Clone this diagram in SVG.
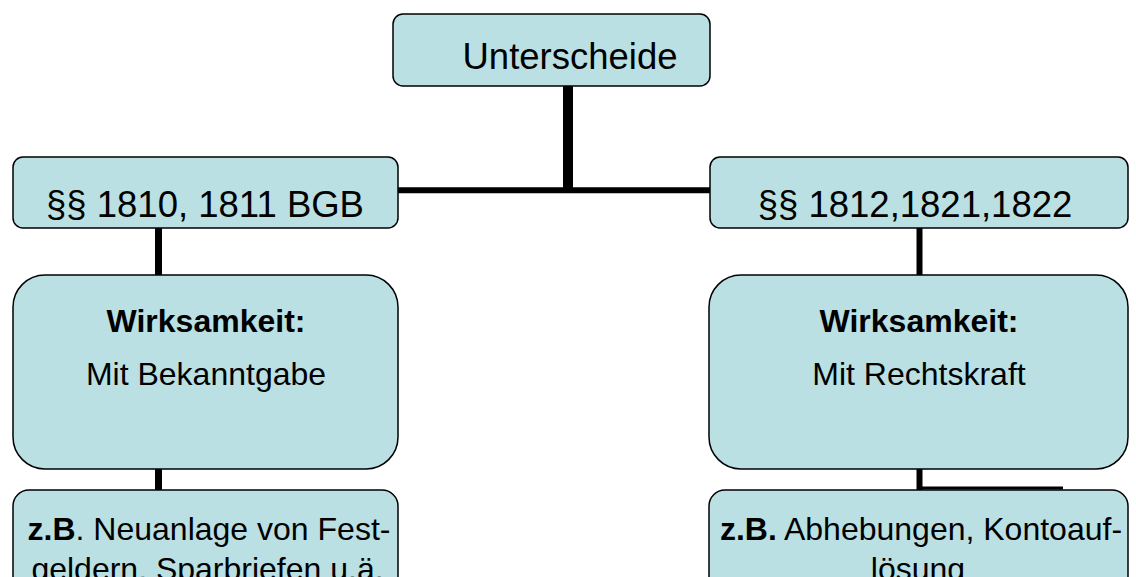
<svg xmlns="http://www.w3.org/2000/svg" width="1136" height="577" viewBox="0 0 1136 577">
<style>
.box{fill:#BAE0E4;stroke:#000;stroke-width:1.5}
.t{font-family:"Liberation Sans",Arial,sans-serif;fill:#000;text-anchor:middle}
.b{font-weight:bold}
.c{stroke:#000;fill:none}
</style>
<rect width="1136" height="577" fill="#fff"/>
<g id="connectors">
<line class="c" x1="568" y1="86" x2="568" y2="193" stroke-width="10"/>
<line class="c" x1="398" y1="190.3" x2="710" y2="190.3" stroke-width="6"/>
<line class="c" x1="158.5" y1="228" x2="158.5" y2="276" stroke-width="7"/>
<line class="c" x1="919.5" y1="228" x2="919.5" y2="276" stroke-width="6"/>
<line class="c" x1="158.5" y1="469" x2="158.5" y2="490" stroke-width="7"/>
<line class="c" x1="919.5" y1="469" x2="919.5" y2="490" stroke-width="6"/>
<line class="c" x1="919" y1="488" x2="1063" y2="488" stroke-width="3"/>
</g>
<g id="n-top">
<rect class="box" x="393" y="14" width="317" height="72" rx="10"/>
<text class="t" x="570" y="69" font-size="36.5">Unterscheide</text>
</g>
<g id="n-left">
<rect class="box" x="13" y="157" width="385" height="71" rx="10"/>
<text class="t" x="205" y="217" font-size="36.5">§§ 1810, 1811 BGB</text>
</g>
<g id="n-right">
<rect class="box" x="710" y="157" width="418" height="71" rx="10"/>
<text class="t" x="915" y="217" font-size="36.5">§§ 1812,1821,1822</text>
</g>
<g id="n-left-wirk">
<rect class="box" x="13" y="275" width="385" height="194" rx="32"/>
<text class="t b" x="206" y="332" font-size="32">Wirksamkeit:</text>
<text class="t" x="206" y="385" font-size="32">Mit Bekanntgabe</text>
</g>
<g id="n-right-wirk">
<rect class="box" x="709" y="275" width="419" height="194" rx="32"/>
<text class="t b" x="919" y="332" font-size="32">Wirksamkeit:</text>
<text class="t" x="919" y="385" font-size="32">Mit Rechtskraft</text>
</g>
<g id="n-left-bsp">
<rect class="box" x="13" y="490" width="385" height="120" rx="16"/>
<text class="t" x="209" y="540" font-size="32"><tspan class="b">z.B</tspan>. Neuanlage von Fest-</text>
<text class="t" x="207.5" y="580" font-size="32">geldern, Sparbriefen u.ä.</text>
</g>
<g id="n-right-bsp">
<rect class="box" x="709" y="490" width="419" height="120" rx="16"/>
<text class="t" x="921" y="540" font-size="32"><tspan class="b">z.B.</tspan> Abhebungen, Kontoauf-</text>
<text class="t" x="918" y="580" font-size="32">lösung</text>
</g>
</svg>
